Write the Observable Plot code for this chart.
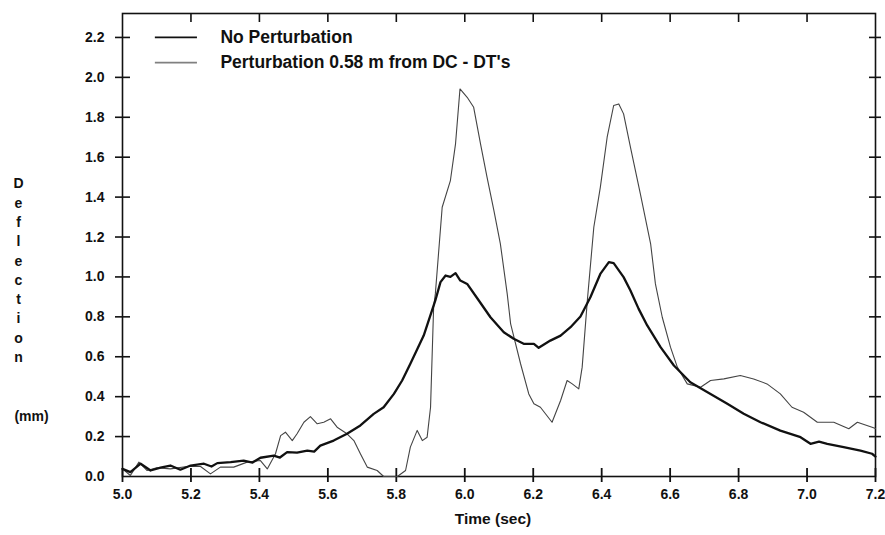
<!DOCTYPE html>
<html><head><meta charset="utf-8">
<script src="https://cdn.jsdelivr.net/npm/d3@7"></script>
<script src="https://cdn.jsdelivr.net/npm/@observablehq/plot@0.6"></script>
<style>body{margin:0;background:#fff;} svg{display:block}</style>
</head><body><div id="chart"></div>
<script>
// Series: No Perturbation (thick line)
const noPertTime = [5.000,5.023,5.053,5.082,5.111,5.140,5.169,5.199,5.238,5.260,5.277,5.316,5.354,5.380,5.403,5.442,5.460,5.481,5.510,5.540,5.560,5.578,5.617,5.656,5.695,5.734,5.763,5.793,5.817,5.841,5.880,5.914,5.929,5.944,5.958,5.973,5.987,6.007,6.041,6.075,6.114,6.143,6.172,6.202,6.216,6.250,6.280,6.309,6.338,6.367,6.396,6.421,6.435,6.464,6.484,6.508,6.533,6.572,6.611,6.659,6.718,6.767,6.815,6.864,6.922,6.981,7.010,7.035,7.059,7.107,7.156,7.190,7.200];
const noPertDefl = [0.038,0.022,0.064,0.030,0.044,0.055,0.034,0.055,0.064,0.050,0.067,0.072,0.080,0.070,0.094,0.105,0.095,0.122,0.120,0.130,0.125,0.155,0.180,0.214,0.256,0.314,0.347,0.414,0.481,0.565,0.706,0.882,0.974,1.007,1.000,1.019,0.982,0.965,0.882,0.798,0.723,0.690,0.665,0.665,0.645,0.681,0.706,0.748,0.802,0.898,1.015,1.074,1.069,0.999,0.932,0.840,0.757,0.648,0.556,0.472,0.414,0.364,0.314,0.272,0.230,0.197,0.164,0.175,0.164,0.147,0.130,0.114,0.100];
// Series: Perturbation 0.58 m from DC - DT's (thin line)
const pertTime = [5.000,5.023,5.048,5.072,5.100,5.140,5.189,5.228,5.257,5.286,5.325,5.364,5.403,5.423,5.447,5.462,5.476,5.496,5.510,5.530,5.549,5.569,5.588,5.608,5.627,5.656,5.676,5.695,5.715,5.744,5.763,5.803,5.827,5.841,5.861,5.876,5.890,5.900,5.909,5.914,5.934,5.958,5.973,5.986,6.007,6.026,6.046,6.065,6.085,6.104,6.124,6.134,6.163,6.187,6.202,6.221,6.255,6.280,6.299,6.314,6.333,6.343,6.358,6.377,6.396,6.416,6.435,6.450,6.464,6.484,6.513,6.543,6.557,6.577,6.601,6.621,6.650,6.689,6.718,6.757,6.805,6.844,6.883,6.922,6.956,6.990,7.030,7.078,7.122,7.147,7.190,7.200];
const pertDefl = [0.038,0.005,0.072,0.030,0.044,0.038,0.050,0.050,0.013,0.047,0.047,0.072,0.080,0.038,0.114,0.205,0.222,0.180,0.214,0.272,0.300,0.264,0.272,0.289,0.247,0.214,0.180,0.114,0.047,0.030,0.000,0.000,0.030,0.147,0.231,0.180,0.197,0.347,0.848,0.915,1.349,1.483,1.667,1.942,1.900,1.850,1.667,1.500,1.333,1.166,0.915,0.765,0.565,0.414,0.364,0.347,0.272,0.381,0.481,0.464,0.439,0.548,0.880,1.249,1.449,1.700,1.859,1.867,1.817,1.650,1.416,1.166,0.965,0.798,0.648,0.548,0.464,0.447,0.481,0.489,0.506,0.489,0.464,0.414,0.347,0.322,0.272,0.272,0.239,0.272,0.247,0.240];

const xTicks = [5.0,5.2,5.4,5.6,5.8,6.0,6.2,6.4,6.6,6.8,7.0,7.2];
const yTicks = [0.0,0.2,0.4,0.6,0.8,1.0,1.2,1.4,1.6,1.8,2.0,2.2];
const seriesNames = ["No Perturbation", "Perturbation 0.58 m from DC - DT's"];
const yLabel = "Deflection";
const yUnit = "(mm)";
const xLabel = "Time (sec)";

const xDomain = [5.0, 7.2];
const yDomain = [0, 2.32];

const noPert = noPertTime.map((t, i) => ({t, d: noPertDefl[i]}));
const pert = pertTime.map((t, i) => ({t, d: pertDefl[i]}));

// legend layout (in data units of the frame)
const legendRows = [
  {name: seriesNames[0], y: 2.2, stroke: "#111", w: 1.7},
  {name: seriesNames[1], y: 2.074, stroke: "#808080", w: 1.6}
];
const legendX1 = 5.096, legendX2 = 5.219, legendTextX = 5.286;

const font = "'Liberation Sans', Arial, Helvetica, sans-serif";
const ink = "#111";

const chart = Plot.plot({
  width: 885, height: 535,
  marginLeft: 122, marginRight: 10, marginTop: 13, marginBottom: 59,
  x: {domain: xDomain, axis: null},
  y: {domain: yDomain, axis: null},
  style: {fontFamily: font, background: "#fff", color: ink},
  marks: [
    Plot.frame({stroke: ink, strokeWidth: 1.6}),
    // bottom ticks (crossing the axis)
    Plot.ruleX(xTicks, {x: d => d, y1: yDomain[0], y2: yDomain[0], insetTop: -8, insetBottom: -6, stroke: ink, strokeWidth: 1.8}),
    // top ticks (inward)
    Plot.ruleX(xTicks.slice(1, -1), {x: d => d, y1: yDomain[1], y2: yDomain[1], insetBottom: -9, stroke: ink, strokeWidth: 1.6}),
    // left ticks (crossing)
    Plot.ruleY(yTicks.slice(1), {y: d => d, x1: xDomain[0], x2: xDomain[0], insetLeft: -7, insetRight: -8, stroke: ink, strokeWidth: 1.6}),
    // right ticks (crossing)
    Plot.ruleY(yTicks.slice(1), {y: d => d, x1: xDomain[1], x2: xDomain[1], insetLeft: -6, insetRight: -6, stroke: ink, strokeWidth: 1.6}),
    // tick labels
    Plot.text(xTicks, {x: d => d, frameAnchor: "bottom", dy: 18, text: d => d.toFixed(1), fontSize: 14, fontWeight: "bold", lineAnchor: "middle", fill: ink}),
    Plot.text(yTicks, {y: d => d, frameAnchor: "left", dx: -18, textAnchor: "end", text: d => d.toFixed(1), fontSize: 14, fontWeight: "bold", fill: ink}),
    // data
    Plot.line(pert, {x: "t", y: "d", stroke: "#444", strokeWidth: 1.1}),
    Plot.line(noPert, {x: "t", y: "d", stroke: ink, strokeWidth: 2.3}),
    // legend
    Plot.ruleY(legendRows, {y: "y", x1: legendX1, x2: legendX2, stroke: "stroke", strokeWidth: "w"}),
    Plot.text(legendRows, {x: legendTextX, y: "y", text: "name", textAnchor: "start", fontSize: 17.5, fontWeight: "bold", fill: ink}),
    // axis titles
    Plot.text([yLabel.split("").join("\n")], {frameAnchor: "left", dx: -104, dy: 24, text: d => d, lineHeight: 1.38, fontSize: 14, fontWeight: "bold", textAnchor: "middle", fill: ink}),
    Plot.text([yUnit], {frameAnchor: "left", dx: -91, dy: 172, text: d => d, fontSize: 14, fontWeight: "bold", textAnchor: "middle", fill: ink}),
    Plot.text([xLabel], {frameAnchor: "bottom", dy: 47, dx: -6, text: d => d, fontSize: 15.5, fontWeight: "bold", fill: ink})
  ]
});
document.getElementById("chart").append(chart);
</script>
</body></html>
